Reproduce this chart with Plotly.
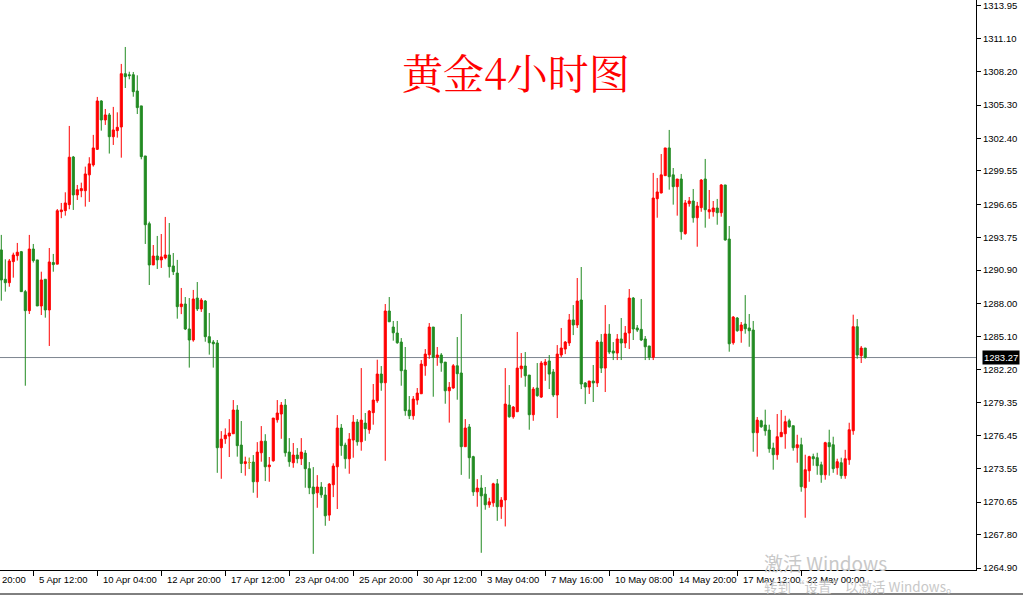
import plotly.graph_objects as go

# ---------------- data (4h gold bars) ----------------
opens = [
    1292.66, 1290.10, 1289.80, 1291.64, 1292.16, 1292.51, 1289.02, 1287.36, 1292.74, 1291.79,
    1287.77, 1290.10, 1287.42, 1291.56, 1291.42, 1296.00, 1296.09, 1296.61, 1300.77, 1297.46,
    1297.83, 1297.83, 1299.21, 1300.08, 1301.44, 1305.66, 1304.00, 1304.44, 1302.54, 1303.07,
    1303.39, 1308.04, 1307.95, 1307.95, 1306.53, 1305.23, 1300.86, 1294.95, 1291.35, 1292.13,
    1291.79, 1291.96, 1292.22, 1291.26, 1290.64, 1287.71, 1287.94, 1285.76, 1284.80, 1288.46,
    1287.51, 1288.20, 1285.09, 1284.62, 1284.54, 1275.40, 1276.18, 1276.42, 1276.62, 1278.69,
    1275.63, 1274.02, 1274.11, 1274.15, 1272.43, 1274.96, 1275.97, 1273.74, 1274.26, 1277.84,
    1278.34, 1279.12, 1275.02, 1274.09, 1274.76, 1274.44, 1274.93, 1273.57, 1271.97, 1271.47,
    1271.97, 1271.27, 1269.52, 1272.17, 1273.74, 1277.12, 1275.63, 1274.44, 1276.07, 1277.64,
    1275.92, 1277.55, 1276.97, 1278.46, 1279.50, 1281.83, 1281.07, 1287.33, 1285.93, 1285.41,
    1284.62, 1282.18, 1278.69, 1278.19, 1279.56, 1280.11, 1282.55, 1283.51, 1285.93, 1283.29,
    1283.49, 1282.87, 1280.37, 1280.61, 1282.55, 1281.92, 1275.49, 1277.21, 1274.62, 1271.55,
    1271.88, 1271.35, 1270.42, 1270.59, 1272.25, 1270.25, 1270.84, 1279.12, 1278.10, 1278.54,
    1282.29, 1282.53, 1281.74, 1278.28, 1280.61, 1279.82, 1282.62, 1282.97, 1282.01, 1280.00,
    1283.49, 1284.01, 1284.54, 1286.55, 1286.11, 1288.29, 1281.05, 1280.70, 1281.22, 1281.05,
    1284.62, 1282.35, 1285.32, 1283.84, 1283.66, 1284.89, 1284.54, 1285.41, 1288.46, 1285.85,
    1285.73, 1284.89, 1284.28, 1283.29, 1297.13, 1297.63, 1299.14, 1301.56, 1299.21, 1298.18,
    1298.85, 1294.08, 1296.70, 1296.93, 1295.47, 1296.35, 1298.85, 1295.99, 1295.99, 1296.32,
    1295.91, 1298.33, 1293.61, 1284.56, 1286.72, 1285.61, 1286.19, 1285.85, 1285.67, 1276.71,
    1277.75, 1277.38, 1276.94, 1275.37, 1274.79, 1276.36, 1276.62, 1277.75, 1277.32, 1275.40,
    1275.66, 1271.91, 1273.39, 1274.62, 1274.53, 1273.91, 1273.04, 1275.84, 1275.66, 1273.65,
    1274.09, 1272.96, 1274.35, 1276.88, 1285.96, 1283.43, 1284.10,
]
highs = [
    1293.97, 1291.84, 1291.87, 1292.42, 1293.27, 1292.57, 1289.17, 1293.97, 1293.18, 1291.79,
    1290.76, 1290.10, 1292.83, 1292.31, 1296.23, 1296.76, 1297.69, 1303.48, 1300.86, 1298.33,
    1298.53, 1299.93, 1300.75, 1302.70, 1306.01, 1305.72, 1304.96, 1304.61, 1305.14, 1304.67,
    1308.89, 1310.37, 1308.21, 1308.19, 1307.90, 1305.23, 1300.86, 1295.13, 1293.09, 1293.88,
    1294.05, 1295.54, 1295.01, 1292.39, 1291.79, 1289.34, 1288.55, 1288.46, 1289.17, 1289.86,
    1288.46, 1288.29, 1287.16, 1284.80, 1284.80, 1276.85, 1277.09, 1277.90, 1279.56, 1279.12,
    1277.73, 1274.62, 1274.53, 1274.76, 1275.89, 1277.29, 1276.58, 1274.59, 1277.99, 1279.56,
    1279.39, 1279.65, 1276.24, 1275.81, 1275.37, 1276.24, 1275.19, 1274.15, 1273.71, 1273.01,
    1272.40, 1271.97, 1272.31, 1274.04, 1278.25, 1277.47, 1275.84, 1276.68, 1278.25, 1277.90,
    1282.35, 1278.43, 1278.69, 1280.96, 1283.08, 1282.53, 1287.94, 1288.55, 1286.46, 1286.46,
    1284.97, 1284.19, 1279.91, 1279.91, 1280.61, 1283.05, 1284.01, 1286.28, 1285.93, 1284.19,
    1283.66, 1282.87, 1281.13, 1282.70, 1285.06, 1287.07, 1277.90, 1277.47, 1274.70, 1272.66,
    1273.01, 1271.97, 1271.03, 1272.34, 1272.67, 1271.09, 1282.35, 1280.87, 1279.04, 1285.50,
    1283.66, 1283.75, 1281.74, 1280.70, 1282.79, 1282.97, 1283.14, 1283.49, 1282.27, 1284.36,
    1285.85, 1284.71, 1287.07, 1287.85, 1290.21, 1291.17, 1281.13, 1281.22, 1282.62, 1284.80,
    1285.32, 1287.85, 1286.19, 1284.62, 1285.32, 1286.72, 1286.02, 1289.25, 1288.55, 1286.11,
    1288.38, 1285.15, 1284.28, 1299.38, 1298.94, 1301.03, 1301.56, 1303.13, 1299.81, 1298.85,
    1299.29, 1297.02, 1297.28, 1297.98, 1296.85, 1298.85, 1300.60, 1297.89, 1296.93, 1297.11,
    1298.41, 1298.33, 1294.75, 1286.89, 1286.80, 1286.37, 1288.72, 1287.07, 1286.46, 1278.08,
    1277.84, 1278.72, 1277.41, 1275.84, 1278.34, 1278.69, 1278.19, 1277.93, 1277.32, 1276.53,
    1276.27, 1274.79, 1274.70, 1274.88, 1274.96, 1274.18, 1275.92, 1276.97, 1276.36, 1274.44,
    1274.53, 1275.22, 1277.58, 1287.01, 1286.63, 1284.28, 1284.10,
]
lows = [
    1288.23, 1289.02, 1289.45, 1290.24, 1291.73, 1289.02, 1280.81, 1287.07, 1291.56, 1287.77,
    1286.98, 1286.75, 1284.28, 1290.76, 1291.42, 1295.43, 1295.65, 1296.21, 1296.15, 1297.02,
    1297.26, 1296.44, 1296.85, 1299.93, 1301.38, 1303.07, 1303.57, 1301.07, 1301.82, 1302.46,
    1300.71, 1306.79, 1307.55, 1306.03, 1304.52, 1300.57, 1293.18, 1289.60, 1291.35, 1291.00,
    1291.09, 1291.84, 1290.24, 1290.47, 1286.66, 1287.06, 1285.67, 1282.39, 1284.65, 1287.33,
    1287.25, 1284.65, 1283.52, 1282.39, 1273.21, 1272.69, 1275.74, 1274.59, 1276.62, 1274.62,
    1273.19, 1272.96, 1273.54, 1271.47, 1271.03, 1274.18, 1272.49, 1272.43, 1274.18, 1277.59,
    1276.18, 1274.62, 1273.74, 1273.65, 1274.04, 1273.89, 1271.91, 1271.35, 1266.14, 1270.16,
    1271.03, 1268.59, 1269.02, 1271.09, 1270.05, 1274.70, 1273.57, 1273.13, 1274.53, 1275.58,
    1275.14, 1276.01, 1276.62, 1277.41, 1279.32, 1280.37, 1274.26, 1286.39, 1284.74, 1284.47,
    1280.81, 1278.19, 1277.90, 1277.84, 1279.15, 1280.11, 1281.68, 1283.16, 1279.85, 1282.55,
    1282.03, 1279.24, 1277.59, 1280.55, 1279.59, 1273.03, 1275.49, 1272.69, 1271.20, 1270.25,
    1266.23, 1269.99, 1270.16, 1270.25, 1269.02, 1269.19, 1268.53, 1278.02, 1277.93, 1278.54,
    1281.51, 1280.72, 1276.97, 1277.75, 1279.85, 1279.74, 1281.24, 1280.52, 1279.82, 1277.99,
    1283.31, 1283.57, 1284.28, 1285.23, 1285.85, 1280.52, 1279.21, 1280.09, 1279.39, 1280.70,
    1281.92, 1280.26, 1283.57, 1283.05, 1283.05, 1283.05, 1284.10, 1284.01, 1284.80, 1285.50,
    1284.71, 1283.05, 1283.05, 1283.05, 1295.47, 1297.60, 1299.14, 1297.92, 1296.61, 1295.65,
    1293.55, 1293.99, 1296.44, 1295.04, 1292.94, 1295.99, 1294.60, 1295.38, 1295.56, 1294.86,
    1295.56, 1293.47, 1283.78, 1284.39, 1285.52, 1284.56, 1285.35, 1284.21, 1275.05, 1274.62,
    1277.14, 1276.45, 1274.96, 1273.48, 1274.35, 1276.36, 1275.31, 1277.14, 1275.14, 1274.09,
    1271.56, 1269.29, 1272.43, 1273.83, 1273.04, 1272.34, 1272.61, 1272.96, 1273.21, 1273.04,
    1272.69, 1272.69, 1273.91, 1276.53, 1283.17, 1282.79, 1283.17,
]
closes = [
    1290.04, 1289.80, 1291.70, 1292.22, 1292.46, 1289.02, 1287.36, 1292.74, 1291.73, 1287.77,
    1290.04, 1287.42, 1291.61, 1291.38, 1296.08, 1296.15, 1296.76, 1300.75, 1297.46, 1297.92,
    1298.01, 1299.29, 1300.17, 1301.56, 1305.66, 1304.00, 1304.44, 1302.54, 1303.13, 1303.36,
    1308.04, 1307.78, 1307.87, 1306.47, 1305.08, 1300.80, 1294.86, 1291.35, 1292.13, 1291.79,
    1292.05, 1292.22, 1291.20, 1290.76, 1287.71, 1287.94, 1285.76, 1284.80, 1288.38, 1287.51,
    1288.29, 1285.09, 1284.56, 1284.47, 1275.40, 1276.15, 1276.50, 1276.68, 1278.69, 1275.58,
    1274.02, 1274.18, 1274.11, 1272.43, 1275.02, 1275.97, 1273.74, 1273.89, 1277.99, 1278.43,
    1279.12, 1274.96, 1274.18, 1274.76, 1274.44, 1275.02, 1273.57, 1271.91, 1271.38, 1271.97,
    1271.29, 1269.46, 1272.23, 1273.80, 1277.12, 1275.58, 1274.44, 1276.15, 1277.64, 1275.92,
    1277.81, 1277.06, 1278.60, 1279.56, 1281.83, 1281.07, 1287.33, 1286.39, 1285.43, 1284.56,
    1282.12, 1278.63, 1278.19, 1279.65, 1280.17, 1282.70, 1283.57, 1285.93, 1283.27, 1283.49,
    1282.81, 1280.37, 1280.67, 1282.55, 1281.86, 1275.49, 1277.12, 1274.53, 1271.55, 1271.88,
    1271.20, 1270.42, 1270.68, 1272.25, 1270.25, 1270.83, 1279.21, 1278.10, 1278.95, 1282.35,
    1282.53, 1281.68, 1278.28, 1280.52, 1279.94, 1282.79, 1282.88, 1281.83, 1280.00, 1283.57,
    1284.10, 1284.62, 1286.55, 1286.11, 1288.20, 1280.96, 1280.70, 1281.22, 1281.05, 1284.62,
    1282.35, 1285.32, 1283.75, 1283.66, 1284.89, 1284.54, 1285.41, 1288.46, 1285.76, 1285.67,
    1284.80, 1284.21, 1283.29, 1297.19, 1297.72, 1299.21, 1301.56, 1299.05, 1298.18, 1298.85,
    1294.25, 1296.76, 1296.93, 1295.47, 1296.49, 1298.76, 1296.17, 1296.17, 1296.32, 1295.91,
    1298.33, 1293.53, 1284.47, 1286.80, 1285.61, 1286.11, 1285.78, 1285.61, 1276.71, 1277.81,
    1277.23, 1276.88, 1275.31, 1274.79, 1276.36, 1276.74, 1277.67, 1277.23, 1275.40, 1275.66,
    1272.00, 1273.48, 1274.62, 1274.44, 1273.83, 1273.04, 1275.84, 1275.49, 1273.57, 1274.18,
    1272.96, 1274.44, 1276.97, 1285.96, 1283.49, 1284.10, 1283.27,
]

# time-axis labels (every 16 bars) and price-axis ticks
time_label_bars = [8, 24, 40, 56, 72, 88, 104, 120, 136, 152, 168, 184, 200]
time_labels = ["5 Apr 12:00", "10 Apr 04:00", "12 Apr 20:00", "17 Apr 12:00",
               "23 Apr 04:00", "25 Apr 20:00", "30 Apr 12:00", "3 May 04:00",
               "7 May 16:00", "10 May 08:00", "14 May 20:00", "17 May 12:00",
               "22 May 00:00"]
price_ticks = [1264.90, 1267.80, 1270.65, 1273.55, 1276.45, 1279.35, 1282.20,
               1285.10, 1288.00, 1290.90, 1293.75, 1296.65, 1299.55, 1302.40,
               1305.30, 1308.20, 1311.10, 1313.95]
last_price = 1283.27
title_text = "黄金4小时图"

# ---------------- figure ----------------
bars = list(range(len(opens)))
UP = "#ff0000"
DOWN = "#228b22"
DOJI = "#daa520"

fig = go.Figure()
fig.add_trace(go.Candlestick(
    x=bars, open=opens, high=highs, low=lows, close=closes,
    increasing=dict(line=dict(color=UP, width=1), fillcolor=UP),
    decreasing=dict(line=dict(color=DOWN, width=1), fillcolor=DOWN),
    whiskerwidth=0, hoverinfo="skip", showlegend=False,
))
doji = [i for i in bars if opens[i] == closes[i]]
if doji:
    fig.add_trace(go.Candlestick(
        x=doji, open=[opens[i] for i in doji], high=[highs[i] for i in doji],
        low=[lows[i] for i in doji], close=[closes[i] for i in doji],
        increasing=dict(line=dict(color=DOJI, width=1), fillcolor=DOJI),
        decreasing=dict(line=dict(color=DOJI, width=1), fillcolor=DOJI),
        whiskerwidth=0, hoverinfo="skip", showlegend=False,
    ))

AXFONT = dict(family="Liberation Sans, Arial, sans-serif", size=9.5, color="#000000")

# current price line + label
fig.add_shape(type="line", xref="paper", x0=0, x1=1, yref="y", y0=last_price, y1=last_price,
              line=dict(color="#7d8690", width=1), layer="below")
fig.add_annotation(xref="paper", x=1, yref="y", y=last_price, text=f"{last_price:.2f}",
                   showarrow=False, xanchor="left", yanchor="middle", xshift=6,
                   bgcolor="#000000", font=dict(family=AXFONT["family"], size=9.5, color="#ffffff"),
                   borderpad=1)

# time labels placed to the right of their tick marks (MT4 style)
for b, t in zip(time_label_bars, time_labels):
    fig.add_annotation(xref="x", x=b, yref="paper", y=0, text=t, showarrow=False,
                       xanchor="left", yanchor="top", xshift=4, yshift=-2, font=AXFONT)
fig.add_annotation(xref="paper", x=0, yref="paper", y=0, text="20:00", showarrow=False,
                   xanchor="left", yanchor="top", xshift=0, yshift=-2, font=AXFONT)

# title
fig.add_annotation(xref="paper", x=0.529, yref="paper", y=0.874, text=title_text,
                   showarrow=False, xanchor="center", yanchor="middle",
                   font=dict(family="Noto Serif CJK SC, Noto Sans CJK SC, serif", size=41, color="#ff0000"))

# OS watermark seen on the screenshot
fig.add_annotation(xref="paper", x=762 / 976, yref="paper", y=(570 - 562) / 570, text="激活 Windows",
                   showarrow=False, xanchor="left", yanchor="middle",
                   font=dict(family="Noto Sans CJK SC, sans-serif", size=19, color="#c8c8c8"))
fig.add_annotation(xref="paper", x=762 / 976, yref="paper", y=(570 - 586) / 570,
                   text="转到“设置”以激活 Windows。", showarrow=False, xanchor="left", yanchor="middle",
                   font=dict(family="Noto Sans CJK SC, sans-serif", size=13.5, color="#c8c8c8"))

# bottom frame line of the window
fig.add_shape(type="line", xref="paper", x0=0, x1=1023 / 976, yref="paper",
              y0=-(594 - 570) / 570, y1=-(594 - 570) / 570, line=dict(color="#000000", width=1))

fig.update_layout(
    width=1023, height=596,
    margin=dict(l=0, r=47, t=0, b=26),
    paper_bgcolor="#ffffff", plot_bgcolor="#ffffff",
    boxgap=0.25,
    showlegend=False,
    xaxis=dict(range=[-0.325, 243.7], rangeslider=dict(visible=False),
               showgrid=False, zeroline=False, showline=True, linecolor="#000000", linewidth=1,
               ticks="outside", ticklen=5, tickcolor="#000000", tickvals=time_label_bars,
               showticklabels=False, fixedrange=True),
    yaxis=dict(side="right", range=[1264.73, 1314.47], showgrid=False, zeroline=False,
               showline=True, linecolor="#000000", linewidth=1, ticks="outside", ticklen=4,
               tickcolor="#000000", tickvals=price_ticks,
               ticktext=[f"{v:.2f}" for v in price_ticks], tickfont=AXFONT, fixedrange=True),
)

fig.write_html("out.html", config={"displayModeBar": False},
               post_script="document.body.style.margin='0';")
